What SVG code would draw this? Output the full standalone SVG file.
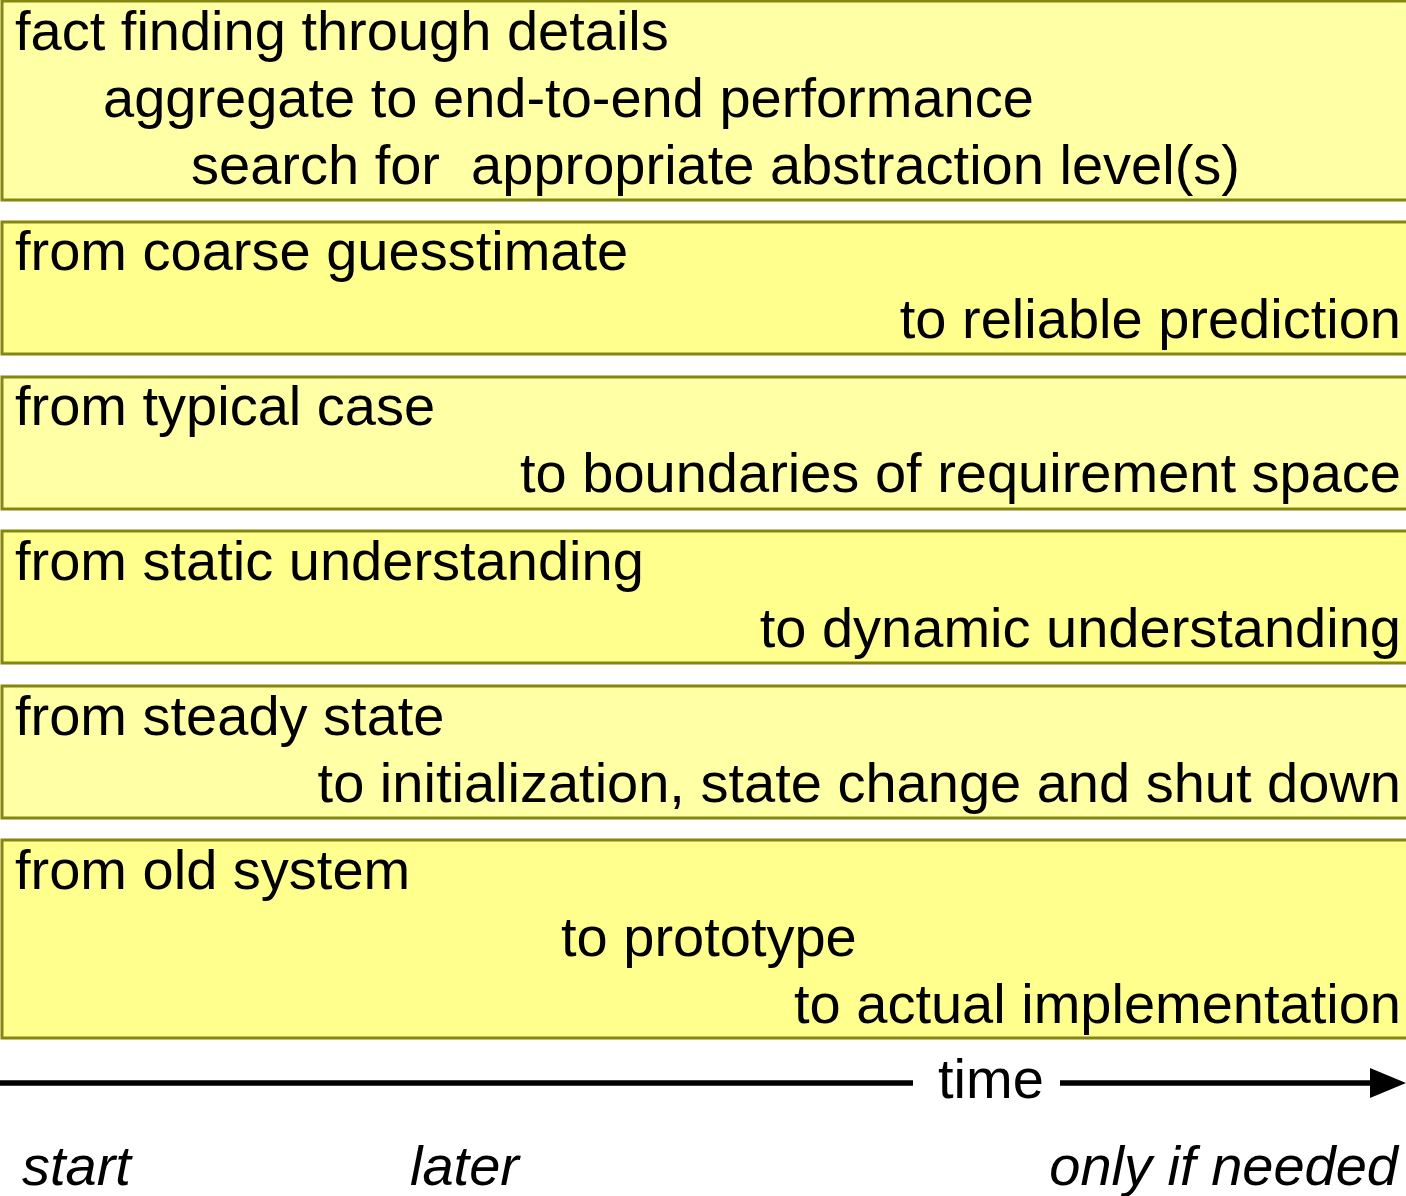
<svg xmlns="http://www.w3.org/2000/svg" width="1406" height="1196" viewBox="0 0 1406 1196">
<style>
.box{stroke:#858510;stroke-width:3}
.l{fill:#ffffa6}
.d{fill:#ffff8e}
text{font-family:"Liberation Sans",Arial,sans-serif;font-size:56px;fill:#000}
.r{text-anchor:end}
.i{font-style:italic}
.ax{stroke:#000;stroke-width:5.5}
</style>
<defs>
<marker id="ah" markerWidth="36" markerHeight="32" refX="36" refY="16" orient="auto" markerUnits="userSpaceOnUse" viewBox="0 0 36 32">
<path d="M0,0 L36,16 L0,32 Z" fill="#000"/>
</marker>
</defs>
<g id="box1"><rect class="box l" x="2" y="1" width="1420" height="199"/>
<text x="15" y="50">fact finding through details</text>
<text x="103" y="117">aggregate to end-to-end performance</text>
<text x="191" y="184" xml:space="preserve">search for  appropriate abstraction level(s)</text></g>
<g id="box2"><rect class="box d" x="2" y="222" width="1420" height="132"/>
<text x="15" y="270">from coarse guesstimate</text>
<text class="r" x="1401" y="338">to reliable prediction</text></g>
<g id="box3"><rect class="box l" x="2" y="377" width="1420" height="132"/>
<text x="15" y="425">from typical case</text>
<text class="r" x="1401" y="492">to boundaries of requirement space</text></g>
<g id="box4"><rect class="box d" x="2" y="531" width="1420" height="132"/>
<text x="15" y="580">from static understanding</text>
<text class="r" x="1401" y="647">to dynamic understanding</text></g>
<g id="box5"><rect class="box l" x="2" y="686" width="1420" height="132"/>
<text x="15" y="735">from steady state</text>
<text class="r" x="1401" y="802">to initialization, state change and shut down</text></g>
<g id="box6"><rect class="box d" x="2" y="840" width="1420" height="198"/>
<text x="15" y="889">from old system</text>
<text x="561" y="956">to prototype</text>
<text class="r" x="1401" y="1023">to actual implementation</text></g>
<g id="connectors">
<line class="ax" x1="0" y1="1083" x2="913" y2="1083"/>
<line class="ax" x1="1060" y1="1083" x2="1390" y2="1083"/>
<path d="M1370,1068 L1406,1083 L1370,1098 Z" fill="#000"/>
</g>
<g id="axis">
<text x="938" y="1098">time</text>
<text class="i" x="22" y="1185">start</text>
<text class="i" x="410" y="1185">later</text>
<text class="i r" x="1398" y="1185">only if needed</text>
</g>
</svg>
